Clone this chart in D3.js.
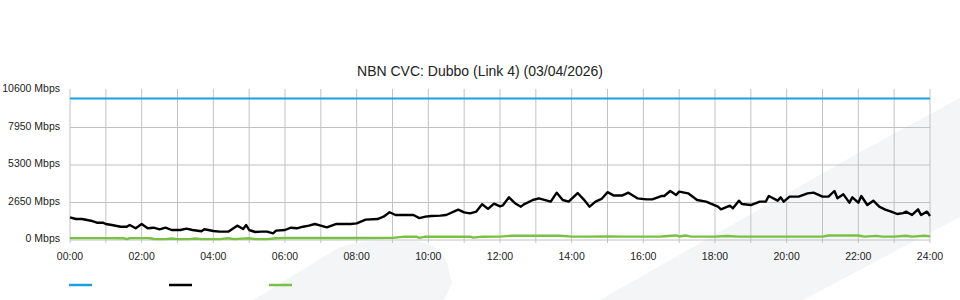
<!DOCTYPE html>
<html>
<head>
<meta charset="utf-8">
<script src="https://cdn.jsdelivr.net/npm/d3@7"></script>
<style>
  html, body { margin: 0; padding: 0; background: #fff; }
  svg { display: block; font-family: "Liberation Sans", Arial, sans-serif; }
</style>
</head>
<body>
<svg width="960" height="300"></svg>
<script>
// chart title and axis ticks
var title = "NBN CVC: Dubbo (Link 4) (03/04/2026)";
var yTicks = [0, 2650, 5300, 7950, 10600];
var xTickMinutes = [0, 120, 240, 360, 480, 600, 720, 840, 960, 1080, 1200, 1320, 1440];

// capacity (blue)
var capTimes = [0, 1440];
var capMbps = [10000, 10000];

// traffic down (black), minutes of day / Mbps
var downTimes = [0, 10, 20, 35, 45, 55, 60, 70, 85, 95, 100, 110, 120, 130, 140, 150, 160, 170, 185, 195,
    205, 220, 225, 240, 250, 265, 275, 280, 290, 295, 300, 310, 320, 330, 340, 345, 360, 370, 380, 390,
    400, 410, 420, 430, 445, 455, 470, 480, 495, 515, 525, 535, 545, 560, 575, 585, 595, 605, 620, 630,
    650, 660, 670, 680, 690, 700, 710, 720, 725, 735, 745, 755, 760, 775, 785, 805, 815, 825, 835, 850,
    860, 870, 880, 890, 900, 910, 925, 935, 950, 965, 975, 990, 995, 1005, 1015, 1020, 1035, 1050, 1065, 1085,
    1090, 1105, 1110, 1120, 1125, 1140, 1155, 1165, 1170, 1185, 1190, 1195, 1205, 1220, 1235, 1245, 1260, 1270, 1280, 1285,
    1295, 1305, 1310, 1320, 1325, 1335, 1345, 1355, 1365, 1375, 1385, 1395, 1400, 1410, 1420, 1425, 1435, 1440];
var downMbps = [1604, 1484, 1484, 1364, 1223, 1223, 1130, 1060, 940, 940, 1060, 826, 1130, 826, 870, 756, 870, 707, 707, 800,
    707, 615, 756, 636, 590, 590, 870, 1013, 777, 1060, 707, 565, 590, 590, 471, 660, 707, 870, 826, 940,
    1013, 1130, 1013, 895, 1130, 1130, 1130, 1177, 1440, 1480, 1649, 1960, 1767, 1767, 1767, 1550, 1650, 1700, 1720, 1767,
    2140, 1950, 1885, 2000, 2530, 2200, 2570, 2380, 2450, 3015, 2600, 2355, 2520, 2827, 2945, 2709, 3345, 2827, 2709, 3320,
    2874, 2355, 2709, 2900, 3380, 3150, 3150, 3345, 2945, 2874, 2874, 3109, 3109, 3463, 3180, 3416, 3298, 2827, 2709, 2355,
    2167, 2426, 2238, 2780, 2544, 2473, 2709, 2709, 3109, 2780, 3015, 2709, 3062, 3062, 3298, 3345, 3062, 3062, 3463, 2945,
    3227, 2638, 3015, 2638, 3109, 2473, 2780, 2355, 2150, 2002, 1837, 1900, 2002, 1767, 2167, 1767, 2002, 1696];

// traffic up (green)
var upTimes = [0, 30, 60, 90, 95, 100, 130, 135, 140, 160, 170, 180, 200, 210, 220, 250, 265, 275, 300, 310,
    330, 345, 360, 420, 480, 540, 560, 580, 585, 595, 650, 670, 675, 690, 720, 740, 780, 820, 840, 870,
    900, 930, 960, 990, 1015, 1020, 1030, 1040, 1080, 1100, 1120, 1160, 1200, 1260, 1270, 1320, 1330, 1350, 1360, 1380,
    1400, 1410, 1430, 1440];
var upMbps = [130, 130, 130, 125, 60, 130, 130, 125, 70, 60, 110, 60, 60, 110, 60, 60, 120, 60, 120, 60,
    60, 120, 140, 140, 140, 150, 235, 235, 150, 235, 235, 235, 170, 235, 240, 300, 300, 300, 240, 240,
    250, 240, 240, 250, 320, 250, 320, 240, 240, 280, 240, 240, 240, 240, 320, 320, 240, 290, 240, 240,
    300, 240, 300, 270];

var legendColors = ["#1ba1e2", "#000000", "#7ac143"];

var svg = d3.select("svg");

// faint background watermark
var bg = svg.append("g").attr("fill", "#f4f5f7");
bg.append("path").attr("d", "M600,300 L860,152 L960,98 L960,217 L803,300 Z");
bg.append("path").attr("d", "M253,300 L333,251 Q348,242 375,241 L412,241 Q440,243 447,263 L452,283 L444,300 Z");

var x = d3.scaleLinear().domain([0, 1440]).range([70, 930]);
var y = d3.scaleLinear().domain([0, 10600]).range([240, 90]);

// grid
var grid = svg.append("g").attr("stroke", "#c2c2c2").attr("stroke-width", 1);
grid.selectAll("line.v")
    .data(d3.range(0, 1441, 60))
    .enter().append("line")
    .attr("class", "v")
    .attr("x1", function(d) { return x(d); })
    .attr("x2", function(d) { return x(d); })
    .attr("y1", 89)
    .attr("y2", 243);
grid.selectAll("line.h")
    .data(yTicks.slice(0, -1))
    .enter().append("line")
    .attr("class", "h")
    .attr("x1", x(0))
    .attr("x2", x(1440))
    .attr("y1", function(d) { return y(d); })
    .attr("y2", function(d) { return y(d); });

// y labels
svg.append("g").selectAll("text")
    .data(yTicks)
    .enter().append("text")
    .attr("x", 60)
    .attr("y", function(d) { return y(d) + 2; })
    .attr("text-anchor", "end")
    .attr("font-size", "10.5px")
    .attr("fill", "#222")
    .text(function(d) { return d + " Mbps"; });

// x labels
svg.append("g").selectAll("text")
    .data(xTickMinutes)
    .enter().append("text")
    .attr("x", function(d) { return x(d); })
    .attr("y", 260)
    .attr("text-anchor", "middle")
    .attr("font-size", "10.5px")
    .attr("fill", "#222")
    .text(function(d) { return d3.format("02")(d / 60) + ":00"; });

svg.append("text")
    .attr("x", 480)
    .attr("y", 76)
    .attr("text-anchor", "middle")
    .attr("font-size", "14px")
    .attr("fill", "#222")
    .text(title);

function drawSeries(times, values, color, width) {
    var pts = times.map(function(t, i) { return [t, values[i]]; });
    var line = d3.line()
        .x(function(d) { return x(d[0]); })
        .y(function(d) { return y(d[1]); });
    svg.append("path")
        .datum(pts)
        .attr("fill", "none")
        .attr("stroke", color)
        .attr("stroke-width", width)
        .attr("stroke-linejoin", "round")
        .attr("d", line);
}

drawSeries(capTimes, capMbps, legendColors[0], 2);
drawSeries(upTimes, upMbps, legendColors[2], 2.4);
drawSeries(downTimes, downMbps, legendColors[1], 2.4);

// legend swatches, no labels in the original
svg.append("g").selectAll("line")
    .data(legendColors)
    .enter().append("line")
    .attr("x1", function(d, i) { return 69 + i * 100; })
    .attr("x2", function(d, i) { return 92 + i * 100; })
    .attr("y1", 285)
    .attr("y2", 285)
    .attr("stroke", function(d) { return d; })
    .attr("stroke-width", 2.5);
</script>
</body>
</html>
